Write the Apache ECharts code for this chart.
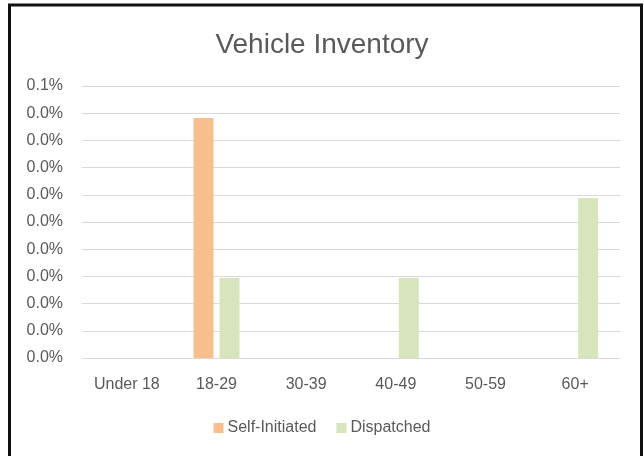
<!DOCTYPE html>
<html>
<head>
<meta charset="utf-8">
<script src="https://cdn.jsdelivr.net/npm/echarts@6/dist/echarts.min.js"></script>
<style>
  html, body { margin: 0; padding: 0; background: #fff; }
  #main { width: 644px; height: 456px; }
</style>
</head>
<body>
<div id="main"></div>
<script>
// categories and values (in percent)
var ageGroups = ['Under 18', '18-29', '30-39', '40-49', '50-59', '60+'];
var selfInitiated = [0, 0.0441, 0, 0, 0, 0];
var dispatched = [0, 0.0147, 0, 0.0147, 0, 0.0294];

var txt = '#595959';
var font = 'Liberation Sans';

var myChart = echarts.init(document.getElementById('main'));
myChart.setOption({
    animation: false,
    textStyle: { fontFamily: font },
    title: {
        text: 'Vehicle Inventory',
        left: 'center',
        top: 26,
        textStyle: { fontSize: 28, fontWeight: 'normal', color: txt, fontFamily: font }
    },
    grid: { left: 82, right: 24, top: 86, bottom: 98 },
    legend: {
        bottom: 15,
        left: 'center',
        itemWidth: 10,
        itemHeight: 10,
        itemGap: 20,
        icon: 'rect',
        textStyle: { fontSize: 16, color: txt, padding: [0, 0, 0, -1] },
        data: ['Self-Initiated', 'Dispatched']
    },
    xAxis: {
        type: 'category',
        data: ageGroups,
        axisLine: { lineStyle: { color: '#d9d9d9' } },
        axisTick: { show: false },
        axisLabel: { fontSize: 16, color: txt, margin: 19 }
    },
    yAxis: {
        type: 'value',
        min: 0,
        max: 0.05,
        interval: 0.005,
        axisLine: { show: false },
        axisTick: { show: false },
        splitLine: { lineStyle: { color: '#d9d9d9' } },
        axisLabel: {
            fontSize: 16, color: txt, margin: 19,
            formatter: function (v) { return (Math.round(v * 1000) / 1000).toFixed(1) + '%'; }
        }
    },
    series: [
        {
            name: 'Self-Initiated', type: 'bar', data: selfInitiated,
            barWidth: 20, barGap: '30%',
            itemStyle: { color: '#f8bf8e' }
        },
        {
            name: 'Dispatched', type: 'bar', data: dispatched,
            barWidth: 20,
            itemStyle: { color: '#d8e4bc' }
        }
    ],
    graphic: [{
        type: 'rect',
        shape: { x: 9.5, y: 5, width: 632, height: 480 },
        style: { fill: 'none', stroke: '#111', lineWidth: 3 }
    }]
});
</script>
</body>
</html>
